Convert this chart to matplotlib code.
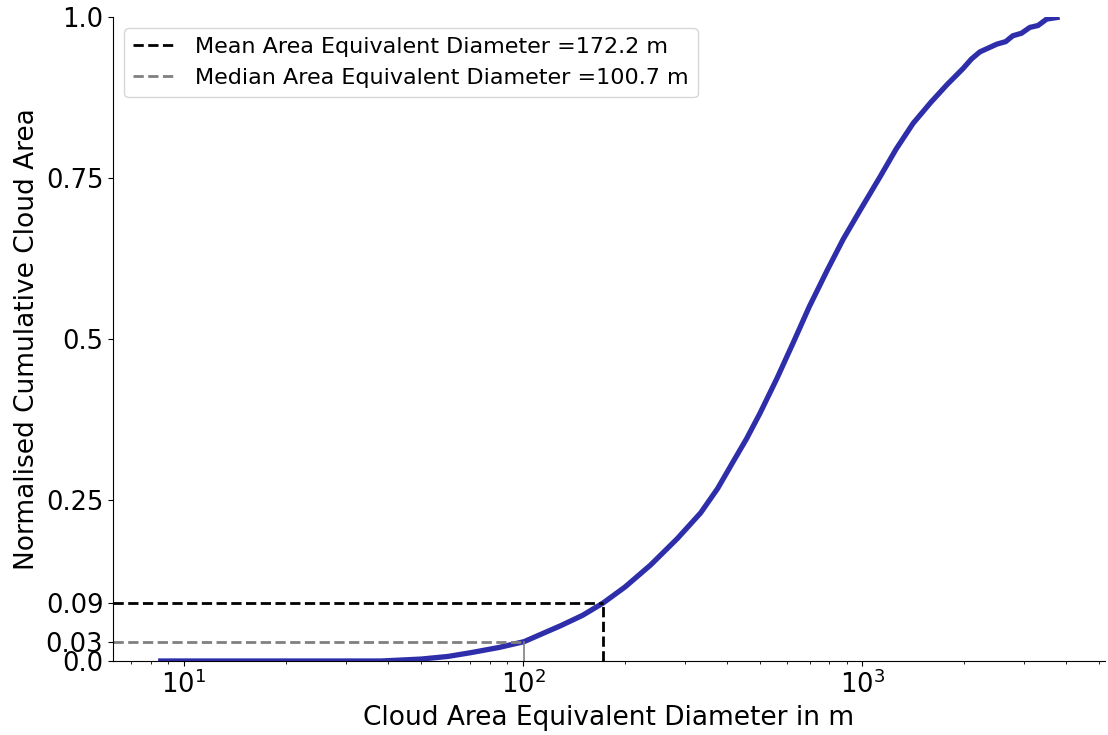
import numpy as np
import matplotlib
matplotlib.use('Agg')
import matplotlib.pyplot as plt

# cumulative area curve (diameter in m, normalised cumulative area)
diameter = [8.4, 20.0, 38.2, 50.1, 60.0, 70.3, 85.0, 100.7, 129.4, 150.0, 172.2,
            200.0, 237.7, 285.0, 334.0, 375.0, 417.0, 456.0, 500.0, 562.0, 627.0,
            698.0, 789.0, 879.0, 986.0, 1129.0, 1259.0, 1413.0, 1596.0, 1778.0,
            1982.0, 2100.0, 2223.0, 2494.0, 2650.0, 2780.0, 2950.0, 3120.0,
            3300.0, 3500.0, 3820.0]
cum_area = [0.0, 0.0, 0.0, 0.003, 0.007, 0.013, 0.021, 0.03, 0.055, 0.071, 0.09,
            0.115, 0.149, 0.19, 0.23, 0.268, 0.31, 0.345, 0.385, 0.44, 0.495,
            0.55, 0.607, 0.655, 0.70, 0.752, 0.795, 0.835, 0.868, 0.895,
            0.92, 0.935, 0.946, 0.958, 0.962, 0.971, 0.975, 0.984,
            0.987, 0.997, 1.0]

mean_d = 172.2
median_d = 100.7
mean_y = 0.09
median_y = 0.03

ytick_vals = [0.0, 0.03, 0.09, 0.25, 0.5, 0.75, 1.0]
ytick_labels = ['0.0', '0.03', '0.09', '0.25', '0.5', '0.75', '1.0']

fig = plt.figure(figsize=(11.08, 7.35), dpi=100)
ax = fig.add_axes([0.102, 0.1007, 0.895, 0.876])

ax.plot(diameter, cum_area, color='#2e2eaa', linewidth=3.8, solid_capstyle='butt')
ax.set_xscale('log')
xl = ax.get_xlim()

# mean / median guide lines
ax.plot([xl[0], mean_d], [mean_y, mean_y], color='black', linestyle='--', linewidth=2,
        label=f'Mean Area Equivalent Diameter ={mean_d} m')
ax.plot([mean_d, mean_d], [0, mean_y], color='black', linestyle='--', linewidth=2)
ax.plot([xl[0], median_d], [median_y, median_y], color='grey', linestyle='--', linewidth=2,
        label=f'Median Area Equivalent Diameter ={median_d} m')
ax.plot([median_d, median_d], [0, median_y], color='grey', linestyle='-', linewidth=1.2)

ax.set_xlim(xl)
ax.set_ylim(0, 1)
ax.set_yticks(ytick_vals)
ax.set_yticklabels(ytick_labels)

ax.spines['top'].set_visible(False)
ax.spines['right'].set_visible(False)
ax.tick_params(axis='both', labelsize=18.5)

ax.set_xlabel('Cloud Area Equivalent Diameter in m', fontsize=19)
ax.set_ylabel('Normalised Cumulative Cloud Area', fontsize=19)

ax.legend(loc='upper left', fontsize=16, handlelength=2)

plt.savefig('out.png', dpi=100)
plt.close()
